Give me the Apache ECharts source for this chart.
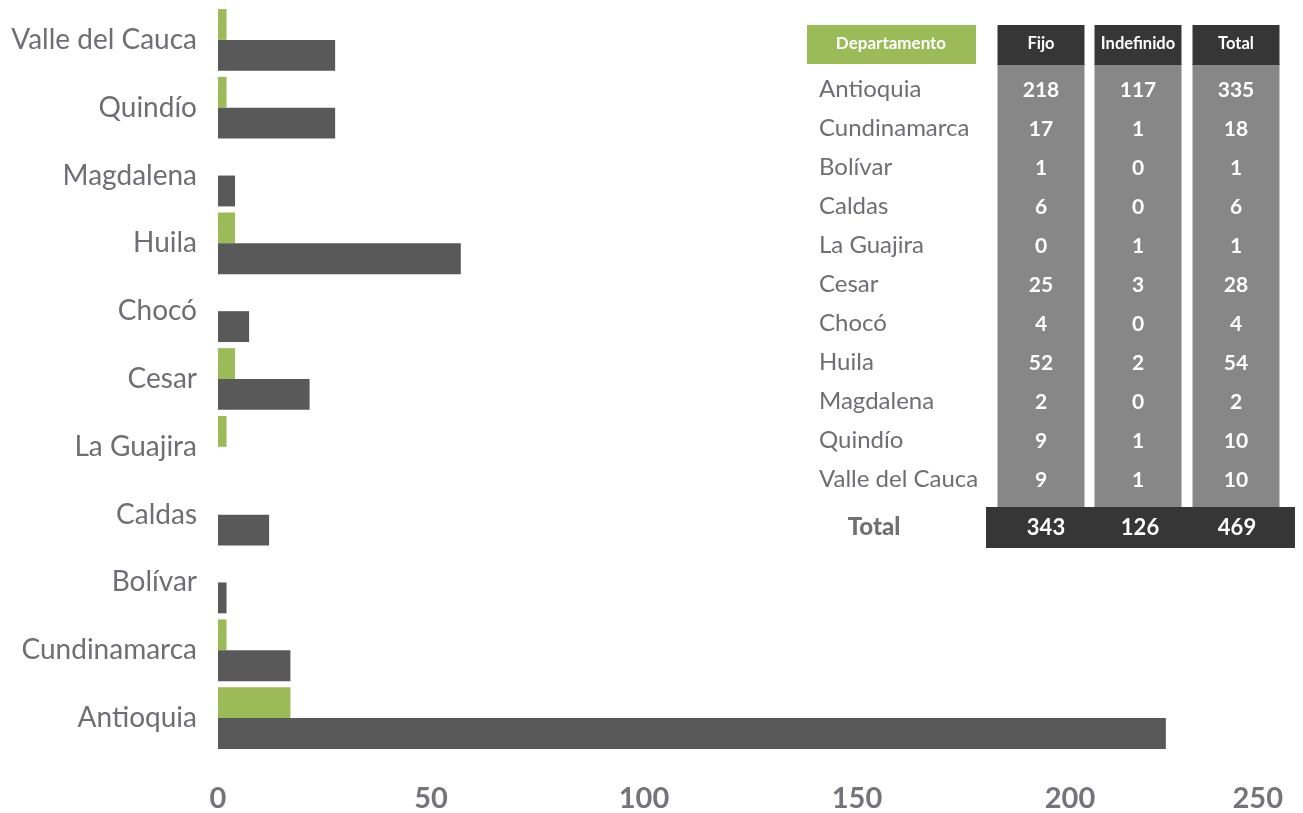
<!DOCTYPE html>
<html>
<head>
<meta charset="utf-8">
<title>Departamentos</title>
<script src="https://cdn.jsdelivr.net/npm/echarts@6/dist/echarts.min.js"></script>
<style>
  html, body { margin: 0; padding: 0; background: #ffffff; }
  #main { width: 1303px; height: 813px; }
</style>
</head>
<body>
<div id="main"></div>
<script>
// categorias del eje (de abajo hacia arriba)
var departamentos = ['Antioquia', 'Cundinamarca', 'Bolívar', 'Caldas', 'La Guajira', 'Cesar',
    'Chocó', 'Huila', 'Magdalena', 'Quindío', 'Valle del Cauca'];
// barras verdes
var serieVerde = [17, 2, 0, 0, 2, 4, 0, 4, 0, 2, 2];
// barras grises
var serieGris = [222.5, 17, 2, 12, 0, 21.5, 7.3, 57, 4, 27.5, 27.5];
var ejeX = { min: 0, max: 250, interval: 50 };

// tabla de la derecha
var encabezados = ['Departamento', 'Fijo', 'Indefinido', 'Total'];
var tablaDept = ['Antioquia', 'Cundinamarca', 'Bolívar', 'Caldas', 'La Guajira', 'Cesar',
    'Chocó', 'Huila', 'Magdalena', 'Quindío', 'Valle del Cauca'];
var tablaFijo = [218, 17, 1, 6, 0, 25, 4, 52, 2, 9, 9];
var tablaIndefinido = [117, 1, 0, 0, 1, 3, 0, 2, 0, 1, 1];
var tablaTotal = [335, 18, 1, 6, 1, 28, 4, 54, 2, 10, 10];
var filaTotal = ['Total', 343, 126, 469];

var FUENTE = 'Lato';
var GRIS_TEXTO = '#6e6e74';

function celdaTexto(x, y, txt, estilo) {
    return {
        type: 'text', x: x, y: y, z: 20,
        style: Object.assign({
            text: String(txt), fontFamily: FUENTE, fill: '#ffffff',
            align: 'center', verticalAlign: 'middle'
        }, estilo || {})
    };
}

function construirTabla() {
    var g = [];
    var colX = [1041, 1138, 1236];    // centros de las columnas
    var colAncho = 87;
    var filaY0 = 89, filaPaso = 39;

    // encabezado verde
    g.push({ type: 'rect', shape: { x: 807, y: 25, width: 169, height: 39 }, style: { fill: '#9bbb59' }, z: 10 });
    g.push(celdaTexto(891, 44, encabezados[0], { fontSize: 17, fontWeight: 'bold' }));

    for (var c = 0; c < 3; c++) {
        // cuerpo gris de la columna
        g.push({ type: 'rect', shape: { x: colX[c] - colAncho / 2, y: 64, width: colAncho, height: 444 }, style: { fill: '#878787' }, z: 10 });
        // encabezado oscuro
        g.push({ type: 'rect', shape: { x: colX[c] - colAncho / 2, y: 25, width: colAncho, height: 40 }, style: { fill: '#363636' }, z: 11 });
        g.push(celdaTexto(colX[c], 44, encabezados[c + 1], { fontSize: 16.5, fontWeight: 'bold' }));
    }

    var columnas = [tablaFijo, tablaIndefinido, tablaTotal];
    for (var i = 0; i < tablaDept.length; i++) {
        var y = filaY0 + i * filaPaso;
        g.push(celdaTexto(819, y, tablaDept[i], { align: 'left', fontSize: 24, fill: GRIS_TEXTO }));
        for (var k = 0; k < 3; k++) {
            g.push(celdaTexto(colX[k], y + 1, columnas[k][i], { fontSize: 21, fontWeight: 'bold' }));
        }
    }

    // fila de totales
    g.push({ type: 'rect', shape: { x: 986, y: 507, width: 309, height: 41 }, style: { fill: '#363636' }, z: 12 });
    g.push(celdaTexto(874, 527, filaTotal[0], { fontSize: 24, fontWeight: 900, fill: '#707070' }));
    var totX = [1046, 1140, 1237];
    for (var t = 1; t < filaTotal.length; t++) {
        g.push(celdaTexto(totX[t - 1], 528, filaTotal[t], { fontSize: 22, fontWeight: 'bold' }));
    }
    return g;
}

var myChart = echarts.init(document.getElementById('main'));

var option = {
    backgroundColor: '#ffffff',
    animation: false,
    grid: { left: 218, right: 20, top: 6, bottom: 60, containLabel: false },
    xAxis: {
        type: 'value',
        min: ejeX.min, max: ejeX.max, interval: ejeX.interval,
        splitLine: { show: false },
        axisLine: { show: false },
        axisTick: { show: false },
        axisLabel: {
            margin: 32, fontFamily: FUENTE, fontSize: 29, fontWeight: 'bold', color: '#75747b',
            alignMaxLabel: 'right'
        }
    },
    yAxis: {
        type: 'category',
        data: departamentos,
        axisLine: { show: false },
        axisTick: { show: false },
        axisLabel: { margin: 21, fontFamily: FUENTE, fontSize: 28, color: GRIS_TEXTO }
    },
    series: [{
        name: 'Verde',
        type: 'bar',
        data: serieVerde,
        itemStyle: { color: '#9bbb59' },
        barGap: '0%',
        barCategoryGap: '9%'
    }, {
        name: 'Gris',
        type: 'bar',
        data: serieGris,
        itemStyle: { color: '#595959' },
        barGap: '0%',
        barCategoryGap: '9%'
    }],
    graphic: construirTabla()
};

myChart.setOption(option);
</script>
</body>
</html>
